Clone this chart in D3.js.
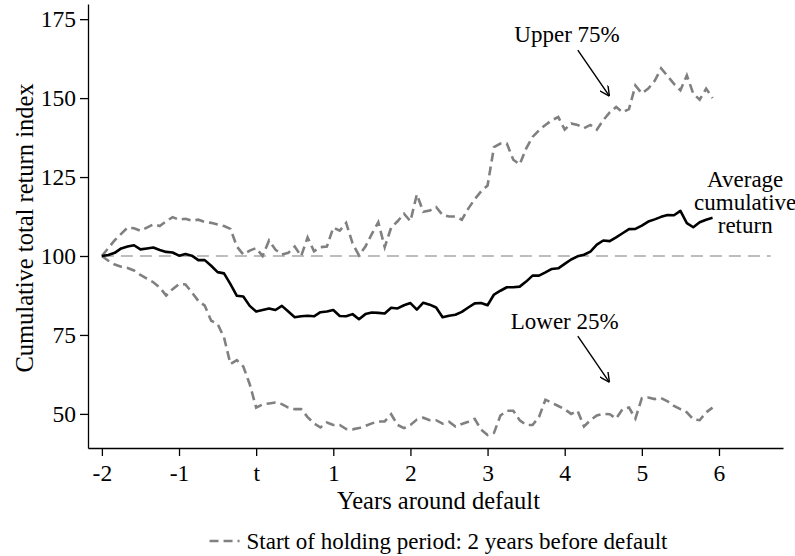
<!DOCTYPE html>
<html>
<head>
<meta charset="utf-8">
<script src="https://cdn.jsdelivr.net/npm/d3@7"></script>
<style>
  body { margin: 0; background: #fff; }
  svg text { font-family: 'Liberation Serif', 'DejaVu Serif', 'Times New Roman', Times, serif; fill: #000; }
</style>
</head>
<body>
<div id="chart"></div>
<script>
// months around default, -24 .. +71
var months = d3.range(-24, 72);

var avgReturn = [
  100, 100.3, 101, 102.4, 103, 103.4, 102.1, 102.4, 102.7, 101.9, 101.3, 101.1,
  100.1, 100.6, 100.1, 98.7, 98.7, 96.9, 94.9, 94.5, 91.1, 87.4, 87.2, 84.2,
  82.4, 82.9, 83.4, 82.9, 84.2, 82.4, 80.6, 80.9, 81.1, 80.9, 82.2, 82.4,
  82.9, 81, 80.9, 81.6, 80, 81.6, 82.1, 82, 81.8, 83.6, 83.4, 84.4,
  85.1, 83, 85.2, 84.6, 83.7, 80.6, 81.1, 81.4, 82.3, 83.7, 85, 85.1,
  84.4, 87.8, 89, 90.1, 90.1, 90.3, 91.9, 93.8, 93.8, 94.8, 95.9, 96.1,
  97.5, 98.9, 99.9, 100.4, 101.4, 103.6, 104.9, 104.7, 105.9, 107.2, 108.5, 108.6,
  109.6, 110.9, 111.6, 112.4, 113, 112.9, 114.3, 110.4, 109.1, 110.7, 111.5, 112.1
];

var upper75 = [
  100, 102.5, 105, 107, 109, 108.8, 108, 109, 110, 109.5, 111, 112.3,
  111.5, 111.8, 111.2, 111.5, 110.8, 110.5, 110, 109.5, 108.6, 103, 100.5, 101.7,
  102.5, 100, 104.9, 102, 100.5, 101, 103, 100, 105.9, 101.5, 102.8, 103,
  109, 108, 110.5, 104, 100.2, 103, 107, 110.7, 102.8, 109, 111, 113.4,
  111, 119.5, 114, 114.4, 115.5, 113, 112.5, 112.5, 111.5, 115, 118, 120.5,
  122.3, 134.5, 135.6, 135.6, 130.5, 129, 134, 137.7, 139.8, 141.5, 143, 144,
  140, 142, 141.5, 140.5, 141.5, 140, 143, 145.5, 147.2, 145.5, 146.5, 154,
  151.5, 153, 155.5, 159.4, 157, 154.5, 152.5, 157.2, 151.4, 149.5, 153, 150
];

var lower25 = [
  100, 98.5, 97.3, 96.6, 96.2, 95.4, 94, 92.8, 91.7, 90, 87.5, 89.5,
  91.1, 91, 88.5, 85.8, 84.3, 79.5, 78.5, 74.2, 65.8, 67, 65, 59.4,
  52, 53, 53.3, 53.6, 53.1, 52, 51.5, 51.5, 49, 47, 45.7, 47.3,
  46.5, 46.5, 45.2, 45.1, 45.5, 46.2, 47, 47.6, 47.6, 49.9, 46.5, 45.5,
  46.5, 48.2, 48.8, 48, 48, 46.9, 47.5, 46, 46.8, 47.5, 48.4, 45,
  43.3, 44, 49.5, 51, 51, 48, 46.5, 46.5, 49, 54.5, 53.5, 52.5,
  51.5, 50, 51, 46, 48, 49.5, 50, 49.9, 48.5, 51.5, 52, 48.5,
  55, 55.2, 54.7, 55, 54, 52.5, 51.5, 50.5, 48.3, 48, 50.5, 52
];

var xTicks = [-2, -1, 0, 1, 2, 3, 4, 5, 6];
var xTickLabels = ["-2", "-1", "t", "1", "2", "3", "4", "5", "6"];
var yTicks = [50, 75, 100, 125, 150, 175];

var width = 795, height = 556;
var svg = d3.select("#chart").append("svg")
    .attr("width", width)
    .attr("height", height);

var x = d3.scaleLinear().domain([-2.18, 6.83]).range([88, 783]);
var y = d3.scaleLinear().domain([39.2, 179.8]).range([448, 4]);

var serif = "'Liberation Serif', 'DejaVu Serif', serif";

// axes
var xAxis = svg.append("g")
    .attr("transform", "translate(0," + 448 + ")")
    .call(d3.axisBottom(x).tickValues(xTicks)
      .tickFormat(function(d, i) { return xTickLabels[i]; })
      .tickSizeOuter(0).tickSizeInner(8).tickPadding(8));
xAxis.attr("font-family", serif).attr("font-size", 23.5);
xAxis.select(".domain").attr("stroke-width", 1.3);
xAxis.selectAll(".tick line").attr("stroke-width", 1.3);

var yAxis = svg.append("g")
    .attr("transform", "translate(88,0)")
    .call(d3.axisLeft(y).tickValues(yTicks)
      .tickSizeOuter(0).tickSizeInner(8).tickPadding(4));
yAxis.attr("font-family", serif).attr("font-size", 23.5);
yAxis.select(".domain").attr("stroke-width", 1.3);
yAxis.selectAll(".tick line").attr("stroke-width", 1.3);

// axis titles
svg.append("text")
    .attr("x", (88 + 783) / 2 + 3)
    .attr("y", 509)
    .attr("text-anchor", "middle")
    .attr("font-size", 24.5)
    .text("Years around default");

svg.append("text")
    .attr("transform", "translate(24," + 228 + ") rotate(-90)")
    .attr("dy", "0.35em")
    .attr("text-anchor", "middle")
    .attr("font-size", 24.5)
    .text("Cumulative total return index");

// reference line at 100
svg.append("line")
    .attr("x1", x(-2)).attr("x2", x(6.67))
    .attr("y1", y(100)).attr("y2", y(100))
    .attr("stroke", "#a8a8a8")
    .attr("stroke-width", 1.6)
    .attr("stroke-dasharray", "12,7");

var line = d3.line()
    .x(function(d, i) { return x(months[i] / 12); })
    .y(function(d) { return y(d); });

svg.append("path")
    .datum(upper75)
    .attr("fill", "none")
    .attr("stroke", "#808080")
    .attr("stroke-width", 2.6)
    .attr("stroke-dasharray", "9,5")
    .attr("d", line);

svg.append("path")
    .datum(lower25)
    .attr("fill", "none")
    .attr("stroke", "#808080")
    .attr("stroke-width", 2.6)
    .attr("stroke-dasharray", "9,5")
    .attr("d", line);

svg.append("path")
    .datum(avgReturn)
    .attr("fill", "none")
    .attr("stroke", "#000")
    .attr("stroke-width", 2.6)
    .attr("stroke-linejoin", "round")
    .attr("d", line);

// arrows + labels
svg.append("defs").append("marker")
    .attr("id", "arrow")
    .attr("viewBox", "0 0 10 10")
    .attr("refX", 10).attr("refY", 5)
    .attr("markerWidth", 10).attr("markerHeight", 10)
    .attr("markerUnits", "userSpaceOnUse")
    .attr("orient", "auto")
  .append("path")
    .attr("d", "M0,0 L10,5 L0,10")
    .attr("fill", "none")
    .attr("stroke", "#000")
    .attr("stroke-width", 1.4);

var arrows = [
  {x1: 4.17, y1: 165.2, x2: 4.58, y2: 150.6},
  {x1: 4.17, y1: 74.6, x2: 4.58, y2: 60}
];
svg.selectAll(".arrow").data(arrows).enter().append("line")
    .attr("class", "arrow")
    .attr("x1", function(d) { return x(d.x1); })
    .attr("y1", function(d) { return y(d.y1); })
    .attr("x2", function(d) { return x(d.x2); })
    .attr("y2", function(d) { return y(d.y2); })
    .attr("stroke", "#000")
    .attr("stroke-width", 1.4)
    .attr("marker-end", "url(#arrow)");

var notes = [
  {x: 4.03, y: 167.7, t: "Upper 75%"},
  {x: 4.0, y: 76.9, t: "Lower 25%"},
  {x: 6.34, y: 121.9, t: "Average"},
  {x: 6.34, y: 114.6, t: "cumulative"},
  {x: 6.34, y: 107.3, t: "return"}
];
svg.selectAll(".note").data(notes).enter().append("text")
    .attr("class", "note")
    .attr("x", function(d) { return x(d.x); })
    .attr("y", function(d) { return y(d.y); })
    .attr("text-anchor", "middle")
    .attr("font-size", 23)
    .text(function(d) { return d.t; });

// legend, centred under the plot
var leg = svg.append("g");
leg.append("line")
    .attr("x1", 0).attr("x2", 30)
    .attr("stroke", "#808080")
    .attr("stroke-width", 2.6)
    .attr("stroke-dasharray", "9,5");
var legText = leg.append("text")
    .attr("x", 37)
    .attr("dy", "0.33em")
    .attr("font-size", 23)
    .text("Start of holding period: 2 years before default");
var legW = 37 + legText.node().getComputedTextLength();
leg.attr("transform", "translate(" + ((88 + 783) / 2 + 3 - legW / 2) + ",541)");
</script>
</body>
</html>
